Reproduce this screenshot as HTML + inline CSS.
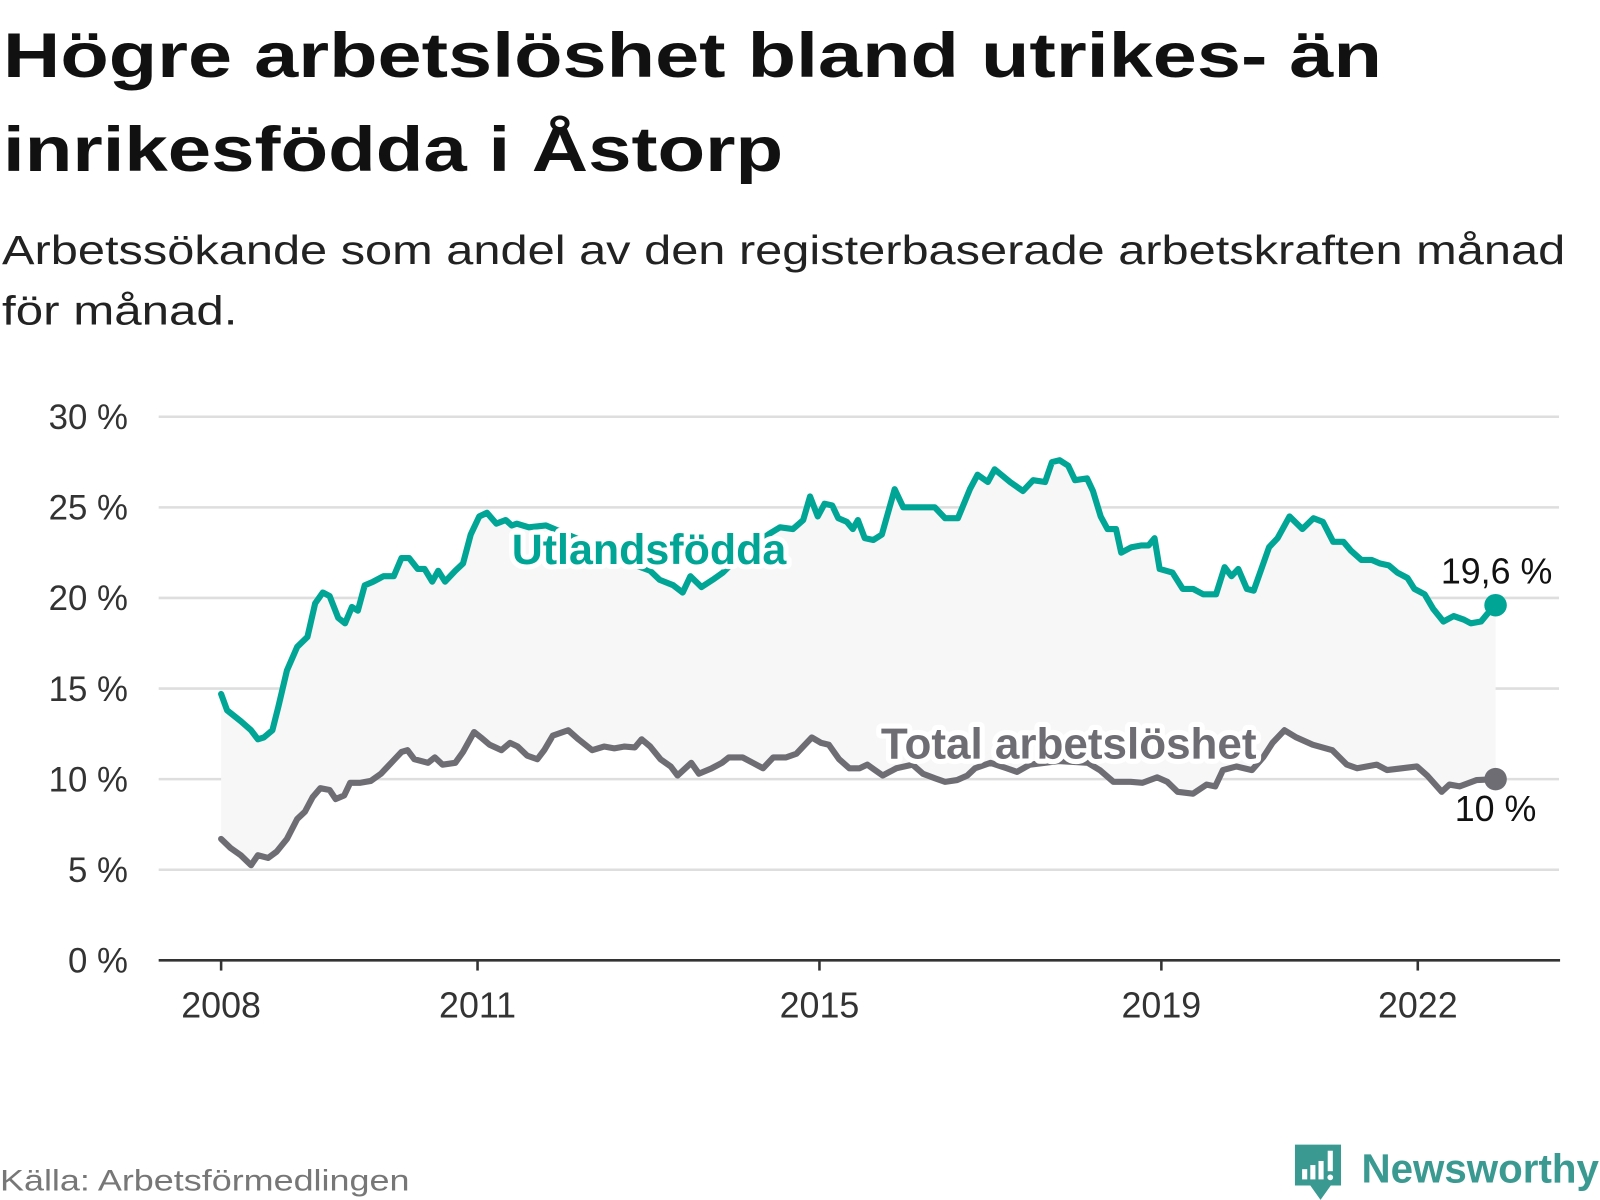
<!DOCTYPE html>
<html><head><meta charset="utf-8">
<style>html,body{margin:0;padding:0;background:#fff;}svg{display:block;}</style>
</head><body>
<svg id="chart" width="1600" height="1200" viewBox="0 0 1563 1172" xmlns="http://www.w3.org/2000/svg" font-family="'Liberation Sans', sans-serif">
<text x="3" y="75" font-size="62" font-weight="bold" fill="#111" textLength="1347" lengthAdjust="spacingAndGlyphs">Högre arbetslöshet bland utrikes- än</text>
<text x="3" y="167" font-size="62" font-weight="bold" fill="#111" textLength="762" lengthAdjust="spacingAndGlyphs">inrikesfödda i Åstorp</text>
<text x="2" y="258" font-size="40" fill="#222" textLength="1527" lengthAdjust="spacingAndGlyphs">Arbetssökande som andel av den registerbaserade arbetskraften månad</text>
<text x="2" y="317" font-size="40" fill="#222" textLength="230" lengthAdjust="spacingAndGlyphs">för månad.</text>
<g id="grid"></g>
<g id="plot"></g>
<g id="labels"></g>
<text x="0" y="1163" font-size="29" fill="#777" textLength="400" lengthAdjust="spacingAndGlyphs">Källa: Arbetsförmedlingen</text>
<g>
<path d="M1265 1118 H1310 V1158 H1300 L1290 1172 L1280 1158 H1265 Z" fill="#3a9a92"/>
<rect x="1272" y="1142" width="5" height="10" fill="#fff"/><rect x="1280" y="1138" width="5" height="14" fill="#fff"/><rect x="1288" y="1134" width="5" height="18" fill="#fff"/><rect x="1297" y="1124" width="5" height="20" fill="#fff"/><circle cx="1299.5" cy="1150" r="2.8" fill="#fff"/>
<text x="1330" y="1155" font-size="40" font-weight="bold" fill="#3a9a92" textLength="232" lengthAdjust="spacingAndGlyphs">Newsworthy</text>
</g>
</svg>
<script>
// Utlandsfödda series
const foreignDates = [0,.07,.23,.35,.43,.50,.60,.67,.77,.89,1.01,1.10,1.19,1.27,1.37,1.45,1.53,1.60,1.68,1.78,1.90,2.02,2.11,2.20,2.30,2.38,2.47,2.54,2.62,2.74,2.83,2.92,3.02,3.11,3.22,3.33,3.40,3.46,3.6,3.8,4.0,4.3,4.6,4.85,5.02,5.13,5.29,5.40,5.49,5.62,5.75,5.87,6.0,6.2,6.4,6.54,6.69,6.81,6.89,6.98,7.06,7.15,7.22,7.32,7.39,7.45,7.53,7.63,7.73,7.88,7.98,8.14,8.35,8.47,8.62,8.76,8.85,8.97,9.05,9.23,9.38,9.50,9.64,9.72,9.81,9.91,9.99,10.13,10.20,10.29,10.37,10.47,10.53,10.65,10.77,10.85,10.92,10.98,11.13,11.25,11.37,11.49,11.64,11.74,11.82,11.90,12.00,12.08,12.17,12.26,12.36,12.50,12.65,12.78,12.89,13.01,13.13,13.22,13.34,13.46,13.56,13.66,13.76,13.88,13.96,14.08,14.18,14.30,14.42,14.54,14.62,14.74,14.81,14.91];
const foreignValues = [14.7,13.8,13.2,12.7,12.2,12.3,12.7,14.0,16.0,17.3,17.85,19.7,20.3,20.1,18.9,18.6,19.5,19.3,20.7,20.9,21.2,21.2,22.2,22.2,21.6,21.6,20.9,21.5,20.9,21.5,21.9,23.5,24.5,24.7,24.1,24.3,24.0,24.1,23.9,24.0,23.6,23.0,22.3,21.8,21.5,21.0,20.7,20.3,21.2,20.6,21.0,21.4,22.0,22.8,23.5,23.9,23.8,24.3,25.6,24.5,25.2,25.1,24.4,24.2,23.8,24.3,23.3,23.2,23.5,26.0,25.0,25.0,25.0,24.4,24.4,26.0,26.8,26.4,27.1,26.4,25.9,26.5,26.4,27.5,27.6,27.3,26.5,26.6,25.9,24.5,23.8,23.8,22.5,22.8,22.9,22.9,23.3,21.6,21.4,20.5,20.5,20.2,20.2,21.7,21.2,21.6,20.5,20.4,21.6,22.8,23.3,24.5,23.8,24.4,24.2,23.1,23.1,22.6,22.1,22.1,21.9,21.8,21.4,21.1,20.5,20.2,19.4,18.7,19.0,18.8,18.6,18.7,19.1,19.6];
// Total arbetslöshet series
const totalDates = [0,.11,.23,.35,.43,.55,.65,.77,.89,.98,1.07,1.16,1.27,1.34,1.44,1.51,1.63,1.75,1.87,1.99,2.11,2.18,2.26,2.42,2.50,2.59,2.74,2.83,2.96,3.04,3.14,3.28,3.38,3.47,3.58,3.70,3.78,3.88,4.06,4.18,4.34,4.48,4.60,4.72,4.84,4.92,5.02,5.14,5.26,5.34,5.50,5.59,5.74,5.86,5.94,6.10,6.22,6.34,6.46,6.61,6.73,6.81,6.91,7.02,7.11,7.23,7.35,7.47,7.56,7.65,7.74,7.9,8.09,8.21,8.35,8.47,8.61,8.73,8.82,9.0,9.19,9.31,9.46,9.8,10.14,10.28,10.44,10.64,10.78,10.95,11.07,11.19,11.37,11.53,11.63,11.72,11.88,12.06,12.19,12.3,12.44,12.58,12.77,13.0,13.17,13.29,13.52,13.64,13.99,14.11,14.28,14.37,14.49,14.69,14.91];
const totalValues = [6.7,6.2,5.8,5.25,5.8,5.65,6.0,6.7,7.8,8.2,9.0,9.5,9.4,8.9,9.1,9.8,9.8,9.9,10.3,10.9,11.5,11.6,11.1,10.9,11.2,10.8,10.9,11.5,12.6,12.3,11.9,11.6,12.0,11.8,11.3,11.1,11.6,12.4,12.7,12.2,11.6,11.8,11.7,11.8,11.75,12.2,11.8,11.1,10.7,10.2,10.9,10.3,10.6,10.9,11.2,11.2,10.9,10.6,11.2,11.2,11.4,11.8,12.3,12.0,11.9,11.1,10.6,10.6,10.8,10.5,10.2,10.6,10.8,10.3,10.05,9.85,9.95,10.2,10.6,10.9,10.6,10.4,10.8,11.0,10.9,10.5,9.85,9.85,9.8,10.1,9.85,9.3,9.2,9.7,9.6,10.5,10.7,10.5,11.2,12.0,12.7,12.3,11.9,11.6,10.8,10.6,10.8,10.5,10.7,10.2,9.3,9.7,9.6,9.95,10.0];
const yTicks = [0,5,10,15,20,25,30];
const yTickLabels = ["0 %","5 %","10 %","15 %","20 %","25 %","30 %"];
const xTicks = [2008,2011,2015,2019,2022];
const startYear = 2008;
const foreignEndLabel = "19,6 %";
const totalEndLabel = "10 %";

const NS = "http://www.w3.org/2000/svg";
const X0 = 216, PX_PER_YEAR = 83.5, Y0 = 938, PX_PER_PCT = 17.7;
function xScale(year){ return X0 + (year - startYear) * PX_PER_YEAR; }
function yScale(v){ return Y0 - v * PX_PER_PCT; }
function mk(tag, attrs, parent){ const e = document.createElementNS(NS, tag); for (const k in attrs) e.setAttribute(k, attrs[k]); parent.appendChild(e); return e; }

const grid = document.getElementById('grid');
const plot = document.getElementById('plot');
const labels = document.getElementById('labels');

yTicks.forEach((t, i) => {
  if (t > 0) {
    const gl = mk('line', {x1:155, x2:1523, y1:yScale(t), y2:yScale(t), stroke:'#dedede', 'stroke-width':2.5}, grid);
    
    
  }
  const tl = mk('text', {x:125, y:yScale(t)+12, 'font-size':34, fill:'#333', 'text-anchor':'end'}, grid);
  tl.textContent = yTickLabels[i];
  
  
});
const axis = mk('line', {x1:155, x2:1524, y1:Y0, y2:Y0, stroke:'#333', 'stroke-width':2.5}, grid);


xTicks.forEach(yr => {
  const tk = mk('line', {x1:xScale(yr), x2:xScale(yr), y1:Y0, y2:Y0+10, stroke:'#333', 'stroke-width':2.5}, grid);
  
  
  const lb = mk('text', {x:xScale(yr), y:994, 'font-size':35, fill:'#333', 'text-anchor':'middle'}, grid);
  lb.textContent = yr;
  
  
});

function pts(dates, vals){ return dates.map((d,i)=>[xScale(startYear+d), yScale(vals[i])]); }
const fp = pts(foreignDates, foreignValues), tp = pts(totalDates, totalValues);
const areaD = 'M' + fp.map(p=>p.join(',')).join('L') + 'L' + tp.slice().reverse().map(p=>p.join(',')).join('L') + 'Z';
const area = mk('path', {d:areaD, fill:'#f7f7f7'}, plot);



function line(p, color, name){
  const l = mk('path', {d:'M'+p.map(q=>q.join(',')).join('L'), fill:'none', stroke:color, 'stroke-width':6, 'stroke-linejoin':'round', 'stroke-linecap':'round'}, plot);
  
  
}
line(tp, '#6e6d73', 'total-line');
line(fp, '#00a596', 'foreign-born-line');

const fl = fp[fp.length-1], tl2 = tp[tp.length-1];
const d1 = mk('circle', {cx:fl[0], cy:fl[1], r:11, fill:'#00a596'}, plot);


const d2 = mk('circle', {cx:tl2[0], cy:tl2[1], r:11, fill:'#6e6d73'}, plot);



function label(txt, x, y, size, color, bold, anchor, name, halo){
  if (halo) {
    const h = mk('text', {x:x, y:y, 'font-size':size, 'font-weight':bold?'bold':'normal', fill:'#fff', stroke:'#fff', 'stroke-width':10, 'stroke-linejoin':'round', 'text-anchor':anchor}, labels);
    h.textContent = txt;
    
    
  }
  const t = mk('text', {x:x, y:y, 'font-size':size, 'font-weight':bold?'bold':'normal', fill:color, 'text-anchor':anchor}, labels);
  t.textContent = txt;
  
  
}
label('Utlandsfödda', 634, 551, 42, '#00a596', true, 'middle', 'foreign-born-label', true);
label('Total arbetslöshet', 1044, 741, 43, '#6e6d73', true, 'middle', 'total-label', true);
label(foreignEndLabel, fl[0]+1, fl[1]-21, 35, '#111', false, 'middle', 'foreign-born-end-value', true);
label(totalEndLabel, tl2[0], tl2[1]+41, 35, '#111', false, 'middle', 'total-end-value', true);
</script>
</body></html>
